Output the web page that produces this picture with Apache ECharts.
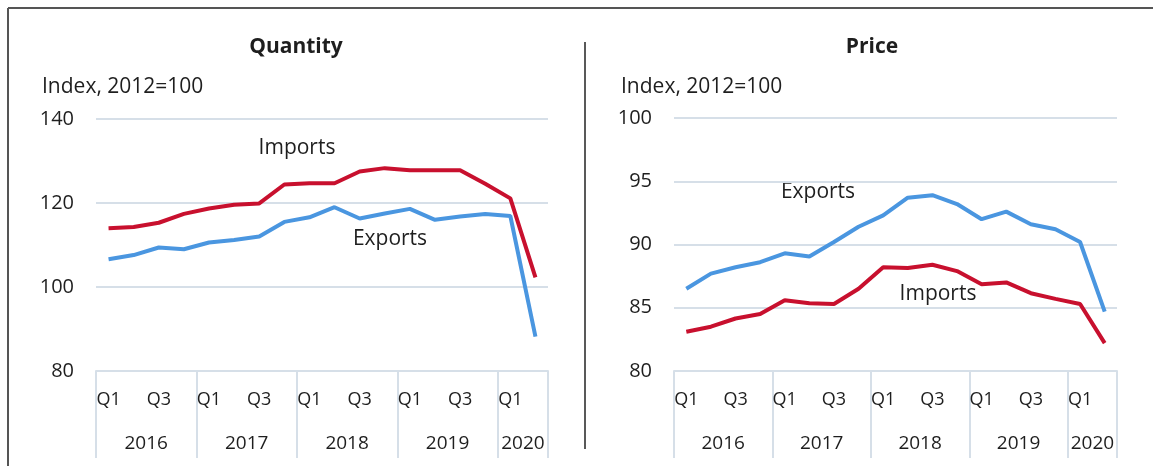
<!DOCTYPE html>
<html>
<head>
    <meta charset="utf-8"/>
    <title>Quantity and Price</title>
    <script src="https://cdn.jsdelivr.net/npm/echarts@6/dist/echarts.min.js"></script>
    <style>
        html, body { margin: 0; padding: 0; background: #fff; }
        #myChart { width: 1153px; height: 466px; }
    </style>
</head>
<body>
<div id="myChart"></div>
<script>
    // 数据
    var quarters = ['Q1', 'Q2', 'Q3', 'Q4', 'Q1', 'Q2', 'Q3', 'Q4', 'Q1', 'Q2', 'Q3', 'Q4',
        'Q1', 'Q2', 'Q3', 'Q4', 'Q1', 'Q2'];
    var years = ['2016', '2017', '2018', '2019', '2020'];
    var yearTicks = [0, 4, 8, 12, 16, 18];
    var yearLabelPos = [2, 6, 10, 14, 17];

    var qtyImports = [114.0, 114.3, 115.3, 117.4, 118.7, 119.6, 119.9, 124.4, 124.7, 124.7,
        127.5, 128.3, 127.8, 127.8, 127.8, 124.6, 121.1, 102.3];
    var qtyExports = [106.6, 107.6, 109.4, 109.0, 110.6, 111.2, 112.0, 115.5, 116.6, 119.0,
        116.3, 117.5, 118.6, 116.0, 116.8, 117.4, 116.9, 88.2];
    var priceExports = [86.5, 87.7, 88.2, 88.6, 89.3, 89.05, 90.2, 91.4, 92.3, 93.7,
        93.9, 93.2, 92.0, 92.6, 91.6, 91.2, 90.2, 84.7];
    var priceImports = [83.1, 83.5, 84.15, 84.5, 85.6, 85.35, 85.3, 86.5, 88.2, 88.15,
        88.4, 87.9, 86.85, 87.0, 86.15, 85.7, 85.3, 82.2];

    var qtyTicks = {min: 80, max: 140, interval: 20};
    var priceTicks = {min: 80, max: 100, interval: 5};

    var red = '#c8102e';
    var blue = '#4a96e0';
    var gridColor = '#d6dfe8';
    var font = '"Open Sans", "Liberation Sans", sans-serif';
    var textColor = '#1e1e1e';

    var myChart = echarts.init(document.getElementById('myChart'));

    var catAxis = function (gi) {
        return {
            type: 'category',
            gridIndex: gi,
            data: quarters,
            boundaryGap: true,
            axisLine: {lineStyle: {color: gridColor, width: 2}},
            axisTick: {show: false},
            axisLabel: {
                interval: 1,
                margin: 20,
                fontFamily: font,
                fontSize: 18,
                color: textColor
            }
        };
    };

    // 年份分隔
    var yearAxis = function (gi) {
        return {
            type: 'value',
            gridIndex: gi,
            min: 0,
            max: 18,
            position: 'bottom',
            axisLine: {show: false},
            splitLine: {show: false},
            axisTick: {
                show: true,
                customValues: yearTicks,
                length: 87,
                lineStyle: {color: gridColor, width: 2}
            },
            axisLabel: {
                customValues: yearLabelPos,
                margin: 63,
                fontFamily: font,
                fontSize: 19,
                color: textColor,
                formatter: function (v) {
                    return years[Math.floor(v / 4)];
                }
            }
        };
    };

    var valAxis = function (gi, t) {
        return {
            type: 'value',
            gridIndex: gi,
            min: t.min,
            max: t.max,
            interval: t.interval,
            axisLine: {show: false},
            axisTick: {show: false},
            splitLine: {lineStyle: {color: gridColor, width: 2}},
            axisLabel: {
                margin: 22,
                fontFamily: font,
                fontSize: 20,
                color: textColor
            }
        };
    };

    var line = function (data, color, xi, yi) {
        return {
            type: 'line',
            data: data,
            xAxisIndex: xi,
            yAxisIndex: yi,
            symbol: 'none',
            smooth: false,
            lineStyle: {color: color, width: 4},
            z: 5
        };
    };

    var txt = function (x, y, s, size, bold, align) {
        return {
            type: 'text',
            x: x,
            y: y,
            style: {
                text: s,
                fontFamily: font,
                fontSize: size,
                fontWeight: bold ? 'bold' : 'normal',
                fill: textColor,
                textAlign: align || 'center',
                textVerticalAlign: 'middle'
            }
        };
    };

    var option = {
        animation: false,
        grid: [
            {left: 96, right: 605, top: 119, bottom: 95},
            {left: 674, right: 36, top: 118, bottom: 95}
        ],
        xAxis: [catAxis(0), yearAxis(0), catAxis(1), yearAxis(1)],
        yAxis: [valAxis(0, qtyTicks), valAxis(1, priceTicks)],
        series: [
            line(qtyImports, red, 0, 0),
            line(qtyExports, blue, 0, 0),
            line(priceExports, blue, 2, 1),
            line(priceImports, red, 2, 1)
        ],
        graphic: [
            // 边框
            {type: 'line', shape: {x1: 8, y1: 8, x2: 1153, y2: 8}, style: {stroke: '#555', lineWidth: 2}},
            {type: 'line', shape: {x1: 8, y1: 8, x2: 8, y2: 466}, style: {stroke: '#555', lineWidth: 2}},
            {type: 'line', shape: {x1: 585, y1: 42, x2: 585, y2: 449}, style: {stroke: '#222', lineWidth: 1.5}},
            txt(296, 47, 'Quantity', 21, true),
            txt(872, 47, 'Price', 21, true),
            txt(42, 87, 'Index, 2012=100', 21, false, 'left'),
            txt(621, 87, 'Index, 2012=100', 21, false, 'left'),
            txt(297, 148, 'Imports', 21),
            txt(390, 239, 'Exports', 21),
            txt(818, 192, 'Exports', 21),
            txt(938, 294, 'Imports', 21)
        ]
    };
    myChart.setOption(option);
</script>
</body>
</html>
